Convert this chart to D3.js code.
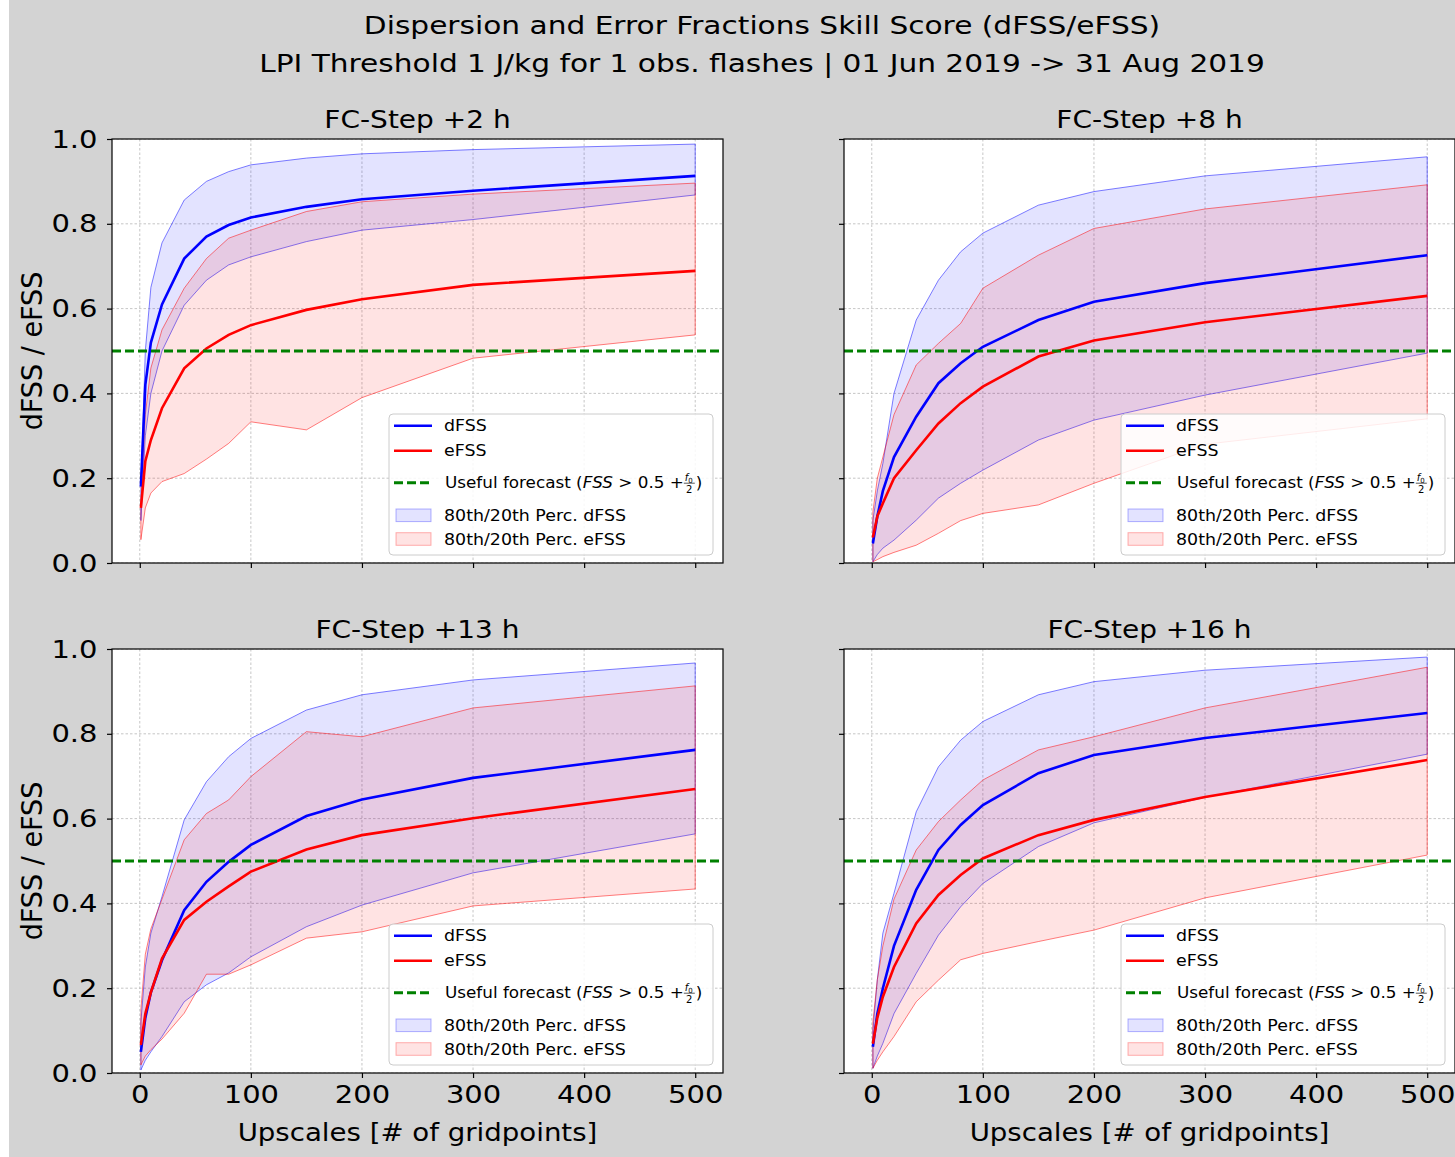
<!DOCTYPE html>
<html>
<head>
<meta charset="utf-8">
<script src="https://cdn.jsdelivr.net/npm/d3@7"></script>
<style>
  body { margin: 0; background: #fff; }
  text { font-family: "DejaVu Sans", sans-serif; fill: #000; }
</style>
</head>
<body>
<svg id="fig" width="1455" height="1157"></svg>
<script>
// upscale sizes (x) shared by all panels
const upscales = [1, 5, 10, 20, 40, 60, 80, 100, 150, 200, 300, 500];
const xTicks = [0, 100, 200, 300, 400, 500];
const yTicks = [0, 0.2, 0.4, 0.6, 0.8, 1.0];
const usefulLevel = 0.5;

const stepTitles = ['FC-Step +2 h', 'FC-Step +8 h', 'FC-Step +13 h', 'FC-Step +16 h'];

// FC-Step +2 h
const d2P80 = [0.18, 0.50, 0.65, 0.755, 0.856, 0.90, 0.923, 0.939, 0.955, 0.965, 0.975, 0.988];
const d2Med = [0.18, 0.42, 0.52, 0.61, 0.718, 0.77, 0.797, 0.815, 0.84, 0.858, 0.878, 0.913];
const d2P20 = [0.10, 0.30, 0.40, 0.50, 0.608, 0.667, 0.703, 0.722, 0.758, 0.785, 0.81, 0.868];
const e2P80 = [0.14, 0.35, 0.46, 0.55, 0.648, 0.718, 0.766, 0.785, 0.829, 0.852, 0.87, 0.896];
const e2Med = [0.13, 0.24, 0.29, 0.365, 0.459, 0.506, 0.538, 0.561, 0.597, 0.622, 0.656, 0.689];
const e2P20 = [0.055, 0.13, 0.165, 0.192, 0.211, 0.245, 0.282, 0.333, 0.314, 0.39, 0.483, 0.538];

// FC-Step +8 h
const d8P80 = [0.10, 0.17, 0.235, 0.40, 0.573, 0.667, 0.734, 0.778, 0.844, 0.876, 0.913, 0.958];
const d8Med = [0.046, 0.11, 0.17, 0.25, 0.345, 0.424, 0.471, 0.51, 0.573, 0.616, 0.66, 0.726];
const d8P20 = [0.003, 0.02, 0.035, 0.054, 0.101, 0.153, 0.188, 0.219, 0.29, 0.337, 0.396, 0.495];
const e8P80 = [0.12, 0.20, 0.25, 0.35, 0.467, 0.518, 0.565, 0.648, 0.726, 0.789, 0.835, 0.892];
const e8Med = [0.06, 0.11, 0.141, 0.20, 0.266, 0.329, 0.377, 0.416, 0.487, 0.525, 0.568, 0.63];
const e8P20 = [0.003, 0.008, 0.015, 0.025, 0.042, 0.07, 0.10, 0.117, 0.137, 0.188, 0.28, 0.34];

// FC-Step +13 h
const d13P80 = [0.12, 0.25, 0.33, 0.416, 0.597, 0.687, 0.746, 0.789, 0.856, 0.892, 0.927, 0.967];
const d13Med = [0.05, 0.13, 0.19, 0.266, 0.384, 0.451, 0.498, 0.538, 0.606, 0.645, 0.696, 0.762];
const d13P20 = [0.007, 0.03, 0.05, 0.086, 0.168, 0.208, 0.236, 0.274, 0.345, 0.396, 0.472, 0.564];
const e13P80 = [0.15, 0.28, 0.34, 0.41, 0.55, 0.612, 0.644, 0.699, 0.805, 0.793, 0.861, 0.913];
const e13Med = [0.066, 0.14, 0.19, 0.27, 0.361, 0.404, 0.44, 0.475, 0.527, 0.561, 0.601, 0.67];
const e13P20 = [0.019, 0.04, 0.055, 0.08, 0.141, 0.233, 0.233, 0.255, 0.318, 0.333, 0.394, 0.434];

// FC-Step +16 h
const d16P80 = [0.10, 0.22, 0.33, 0.424, 0.616, 0.722, 0.785, 0.829, 0.892, 0.923, 0.95, 0.981];
const d16Med = [0.062, 0.14, 0.2, 0.30, 0.432, 0.526, 0.585, 0.632, 0.707, 0.75, 0.79, 0.849];
const d16P20 = [0.011, 0.04, 0.07, 0.14, 0.235, 0.325, 0.392, 0.447, 0.534, 0.59, 0.65, 0.752];
const e16P80 = [0.12, 0.22, 0.30, 0.41, 0.526, 0.593, 0.644, 0.691, 0.762, 0.793, 0.861, 0.957];
const e16Med = [0.069, 0.13, 0.18, 0.25, 0.353, 0.42, 0.467, 0.506, 0.561, 0.597, 0.651, 0.738];
const e16P20 = [0.011, 0.03, 0.05, 0.086, 0.168, 0.219, 0.267, 0.282, 0.31, 0.337, 0.413, 0.514];

const panels = [
  { title: stepTitles[0], col: 0, row: 0, dHi: d2P80, dMed: d2Med, dLo: d2P20, eHi: e2P80, eMed: e2Med, eLo: e2P20 },
  { title: stepTitles[1], col: 1, row: 0, dHi: d8P80, dMed: d8Med, dLo: d8P20, eHi: e8P80, eMed: e8Med, eLo: e8P20 },
  { title: stepTitles[2], col: 0, row: 1, dHi: d13P80, dMed: d13Med, dLo: d13P20, eHi: e13P80, eMed: e13Med, eLo: e13P20 },
  { title: stepTitles[3], col: 1, row: 1, dHi: d16P80, dMed: d16Med, dLo: d16P20, eHi: e16P80, eMed: e16Med, eLo: e16P20 },
];

const W = 1455, H = 1157;
const colLeft = [112, 844], rowTop = [139, 649];
const axW = 611, axH = 424;
// the reference glyphs are drawn wider than DejaVu at the same height
const SX = 1.16, SX_TITLE = 1.185;

const svg = d3.select('#fig');
svg.append('rect').attr('x', 9).attr('y', 0).attr('width', W - 9).attr('height', H).attr('fill', '#d3d3d3');

function label(parent, x, y, txt, size, anchor, sx) {
  return parent.append('text')
    .attr('transform', `translate(${x},${y}) scale(${sx || SX},1)`)
    .attr('text-anchor', anchor || 'start').attr('font-size', size).text(txt);
}

label(svg, 762, 34, 'Dispersion and Error Fractions Skill Score (dFSS/eFSS)', 25, 'middle', SX_TITLE);
label(svg, 762, 72, 'LPI Threshold 1 J/kg for 1 obs. flashes | 01 Jun 2019 -> 31 Aug 2019', 25, 'middle', SX_TITLE);

const defs = svg.append('defs');

panels.forEach((p, i) => {
  const left = colLeft[p.col], top = rowTop[p.row];
  const x = d3.scaleLinear().domain([-25, 525]).range([left, left + axW]);
  const y = d3.scaleLinear().domain([0, 1]).range([top + axH, top]);

  defs.append('clipPath').attr('id', 'clip' + i)
    .append('rect').attr('x', left).attr('y', top).attr('width', axW).attr('height', axH);

  svg.append('rect').attr('x', left).attr('y', top).attr('width', axW).attr('height', axH).attr('fill', '#fff');

  const g = svg.append('g').attr('clip-path', `url(#clip${i})`);

  // grid
  g.selectAll('.vgrid').data(xTicks).enter().append('line')
    .attr('x1', d => x(d)).attr('x2', d => x(d)).attr('y1', top).attr('y2', top + axH)
    .attr('stroke', '#b8b8b8').attr('stroke-width', 0.8).attr('stroke-dasharray', '2.5,2');
  g.selectAll('.hgrid').data(yTicks).enter().append('line')
    .attr('x1', left).attr('x2', left + axW).attr('y1', d => y(d)).attr('y2', d => y(d))
    .attr('stroke', '#b8b8b8').attr('stroke-width', 0.8).attr('stroke-dasharray', '2.5,2');

  const area = (hi, lo) => d3.area().x((d, k) => x(upscales[k])).y0((d, k) => y(lo[k])).y1(d => y(d))(hi);
  const line = arr => d3.line().x((d, k) => x(upscales[k])).y(d => y(d))(arr);

  // percentile bands
  g.append('path').attr('d', area(p.dHi, p.dLo)).attr('fill', 'rgba(0,0,255,0.11)')
    .attr('stroke', 'rgba(0,0,255,0.5)').attr('stroke-width', 1);
  g.append('path').attr('d', area(p.eHi, p.eLo)).attr('fill', 'rgba(255,0,0,0.11)')
    .attr('stroke', 'rgba(255,0,0,0.5)').attr('stroke-width', 1);

  // medians
  g.append('path').attr('d', line(p.dMed)).attr('fill', 'none').attr('stroke', '#0000ff').attr('stroke-width', 2.6);
  g.append('path').attr('d', line(p.eMed)).attr('fill', 'none').attr('stroke', '#ff0000').attr('stroke-width', 2.6);

  // useful-forecast threshold
  g.append('line').attr('x1', left).attr('x2', left + axW).attr('y1', y(usefulLevel)).attr('y2', y(usefulLevel))
    .attr('stroke', '#008000').attr('stroke-width', 3).attr('stroke-dasharray', '9,4');

  // axes
  const xAxis = svg.append('g').attr('transform', `translate(0,${top + axH})`)
    .call(d3.axisBottom(x).tickValues(xTicks).tickSize(5).tickSizeOuter(0).tickPadding(7)
      .tickFormat(p.row === 1 ? d3.format('d') : () => ''));
  const yAxis = svg.append('g').attr('transform', `translate(${left},0)`)
    .call(d3.axisLeft(y).tickValues(yTicks).tickSize(5).tickSizeOuter(0).tickPadding(9.5)
      .tickFormat(p.col === 0 ? d3.format('.1f') : () => ''));
  [xAxis, yAxis].forEach(a => {
    a.select('.domain').remove();
    a.selectAll('.tick line').attr('stroke', '#000').attr('stroke-width', 1.2);
    a.selectAll('.tick text').attr('font-size', 25).attr('font-family', '"DejaVu Sans", sans-serif').attr('fill', '#000');
  });
  xAxis.selectAll('.tick text').attr('transform', `scale(${SX},1)`);
  yAxis.selectAll('.tick text').each(function () {
    const t = d3.select(this);
    const tx = +t.attr('x');
    t.attr('x', 0).attr('transform', `translate(${tx},0) scale(${SX},1)`);
  });

  svg.append('rect').attr('x', left).attr('y', top).attr('width', axW).attr('height', axH)
    .attr('fill', 'none').attr('stroke', '#000').attr('stroke-width', 1.2);

  label(svg, left + axW / 2, top - 11, p.title, 25, 'middle', 1.12);

  if (p.col === 0) {
    svg.append('text').attr('transform', `translate(42,${top + axH / 2}) rotate(-90) scale(1.08,1.1)`)
      .attr('text-anchor', 'middle').attr('font-size', 25).text('dFSS / eFSS');
  }
  if (p.row === 1) {
    label(svg, left + axW / 2, top + axH + 68, 'Upscales [# of gridpoints]', 25, 'middle', 1.105);
  }

  // legend
  const R = left + axW, B = top + axH;
  const lg = svg.append('g');
  lg.append('rect').attr('x', R - 334).attr('y', B - 149).attr('width', 324).attr('height', 141)
    .attr('rx', 4).attr('fill', 'rgba(255,255,255,0.85)').attr('stroke', '#cccccc').attr('stroke-width', 1);
  const hx0 = R - 329, hx1 = R - 291, tx = R - 279;
  const rows = [
    { y: B - 137.3, kind: 'line', color: '#0000ff', label: 'dFSS' },
    { y: B - 112.3, kind: 'line', color: '#ff0000', label: 'eFSS' },
    { y: B - 80.3, kind: 'dash', color: '#008000' },
    { y: B - 47.7, kind: 'patch', fill: 'rgba(0,0,255,0.11)', edge: 'rgba(0,0,255,0.3)', label: '80th/20th Perc. dFSS' },
    { y: B - 24, kind: 'patch', fill: 'rgba(255,0,0,0.11)', edge: 'rgba(255,0,0,0.3)', label: '80th/20th Perc. eFSS' },
  ];
  rows.forEach(r => {
    if (r.kind === 'line') {
      lg.append('line').attr('x1', hx0).attr('x2', hx1).attr('y1', r.y).attr('y2', r.y)
        .attr('stroke', r.color).attr('stroke-width', 2.6);
    } else if (r.kind === 'dash') {
      lg.append('line').attr('x1', hx0).attr('x2', hx1).attr('y1', r.y).attr('y2', r.y)
        .attr('stroke', r.color).attr('stroke-width', 3).attr('stroke-dasharray', '9,4');
    } else {
      lg.append('rect').attr('x', hx0 + 2).attr('y', r.y - 6.3).attr('width', 35).attr('height', 12.6)
        .attr('fill', r.fill).attr('stroke', r.edge).attr('stroke-width', 1);
    }
    if (r.kind !== 'dash') {
      label(lg, tx, r.y + 5.5, r.label, 15).attr('fill', '#111');
    } else {
      const sxU = 1.12;
      const t = label(lg, tx + 1, r.y + 5.5, null, 15, 'start', sxU).attr('fill', '#111');
      t.append('tspan').text('Useful forecast (');
      t.append('tspan').attr('font-style', 'italic').text('FSS');
      t.append('tspan').text(' > 0.5 + ');
      const fx = tx + 1 + t.node().getComputedTextLength() * sxU;
      const num = lg.append('text').attr('x', fx + 1).attr('y', r.y - 2).attr('font-size', 10).attr('fill', '#111');
      num.append('tspan').attr('font-style', 'italic').text('f');
      num.append('tspan').attr('font-size', 7).attr('dy', 2).text('0');
      lg.append('line').attr('x1', fx).attr('x2', fx + 11).attr('y1', r.y + 0.5).attr('y2', r.y + 0.5)
        .attr('stroke', '#111').attr('stroke-width', 0.7);
      lg.append('text').attr('x', fx + 5.5).attr('y', r.y + 10).attr('text-anchor', 'middle')
        .attr('font-size', 10).attr('fill', '#111').text('2');
      label(lg, fx + 12, r.y + 5.5, ')', 15, 'start', sxU).attr('fill', '#111');
    }
  });
});
</script>
</body>
</html>
